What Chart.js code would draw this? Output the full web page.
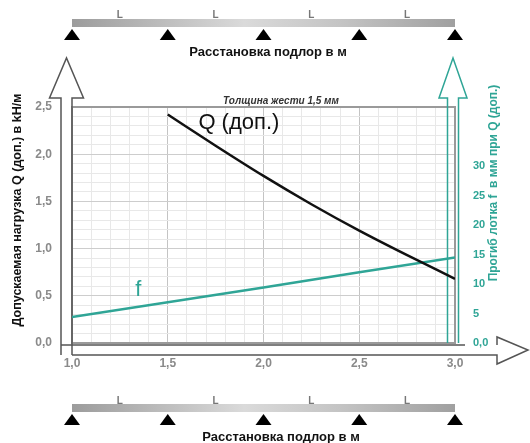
<!DOCTYPE html>
<html>
<head>
<meta charset="utf-8">
<script src="https://cdn.jsdelivr.net/npm/chart.js@4.4.1/dist/chart.umd.min.js"></script>
<style>
  html, body { margin: 0; padding: 0; background: #fff; }
  #wrap { width: 530px; height: 443px; }
</style>
</head>
<body>
<div id="wrap"><canvas id="chart"></canvas></div>
<script>
// spacing of supports, m
const supports = [1.0, 1.5, 2.0, 2.5, 3.0];
// allowed load Q, kN/m
const qX = [1.5, 1.75, 2.0, 2.25, 2.5, 2.75, 3.0];
const qVals = [2.42, 2.09, 1.77, 1.47, 1.19, 0.93, 0.68];
// deflection f, mm
const fX = [1.0, 1.5, 2.0, 2.5, 3.0];
const fVals = [4.4, 6.9, 9.4, 12.0, 14.5];
const rightTicks = [0, 5, 10, 15, 20, 25, 30];

const teal = '#2fa596';
const font = 'Liberation Sans, Arial, sans-serif';

function comma(v) {
  return v.toFixed(1).replace('.', ',');
}
function isMajor(v) {
  return Math.round(v * 10) % 5 === 0;
}

function vArrow(ctx, cx, halfShaft, halfHead, yTip, yBase, yBottom) {
  ctx.beginPath();
  ctx.moveTo(cx - halfShaft, yBottom);
  ctx.lineTo(cx - halfShaft, yBase);
  ctx.lineTo(cx - halfHead, yBase);
  ctx.lineTo(cx, yTip);
  ctx.lineTo(cx + halfHead, yBase);
  ctx.lineTo(cx + halfShaft, yBase);
  ctx.lineTo(cx + halfShaft, yBottom);
  ctx.stroke();
}

function beam(ctx, xs, yBeam, yL) {
  const x0 = xs[0], x1 = xs[xs.length - 1];
  const g = ctx.createLinearGradient(x0, 0, x1, 0);
  g.addColorStop(0, '#9c9c9c');
  g.addColorStop(0.45, '#dadada');
  g.addColorStop(0.7, '#c4c4c4');
  g.addColorStop(1, '#a0a0a0');
  ctx.fillStyle = g;
  ctx.fillRect(x0, yBeam, x1 - x0, 8);
  ctx.fillStyle = '#000';
  xs.forEach(x => {
    ctx.beginPath();
    ctx.moveTo(x, yBeam + 10);
    ctx.lineTo(x + 8, yBeam + 21);
    ctx.lineTo(x - 8, yBeam + 21);
    ctx.closePath();
    ctx.fill();
  });
  ctx.fillStyle = '#777';
  ctx.font = 'bold 10px ' + font;
  ctx.textAlign = 'center';
  ctx.textBaseline = 'alphabetic';
  for (let i = 0; i < xs.length - 1; i++) {
    ctx.fillText('L', (xs[i] + xs[i + 1]) / 2, yL);
  }
}

const decor = {
  id: 'decor',
  beforeDatasetsDraw(chart) {
    const ctx = chart.ctx;
    const a = chart.chartArea;
    ctx.save();
    // plot frame
    ctx.strokeStyle = '#9a9a9a';
    ctx.lineWidth = 2;
    ctx.strokeRect(a.left, a.top, a.right - a.left, a.bottom - a.top);
    // left arrow
    ctx.strokeStyle = '#555';
    ctx.lineWidth = 1.5;
    vArrow(ctx, a.left - 5.5, 5.5, 17, 58, 98, a.bottom + 12);
    // right arrow
    ctx.strokeStyle = teal;
    vArrow(ctx, a.right - 2, 5.5, 14, 58, 98, a.bottom);
    // x arrow
    ctx.strokeStyle = '#555';
    ctx.beginPath();
    ctx.moveTo(a.left - 11, a.bottom + 2);
    ctx.lineTo(a.right + 10, a.bottom + 2);
    ctx.moveTo(497, a.bottom + 2);
    ctx.lineTo(497, a.bottom - 6);
    ctx.lineTo(528, a.bottom + 7);
    ctx.lineTo(497, a.bottom + 21);
    ctx.lineTo(497, a.bottom + 12);
    ctx.lineTo(a.left, a.bottom + 12);
    ctx.stroke();
    ctx.restore();
  },
  afterDatasetsDraw(chart) {
    const ctx = chart.ctx;
    const xs = chart.scales.x;
    const ys = chart.scales.y;
    const sx = supports.map(v => xs.getPixelForValue(v));
    ctx.save();
    beam(ctx, sx, 19, 18);
    beam(ctx, sx, 404, 404);

    ctx.fillStyle = '#111';
    ctx.font = 'bold 13px ' + font;
    ctx.textAlign = 'center';
    ctx.textBaseline = 'middle';
    ctx.fillText('Расстановка подлор в м', 268, 52);
    ctx.fillText('Расстановка подлор в м', 281, 437);

    ctx.font = 'italic bold 10px ' + font;
    ctx.fillStyle = '#333';
    ctx.fillText('Толщина жести 1,5 мм', 281, 101);

    // axis titles
    ctx.save();
    ctx.translate(18, 210);
    ctx.rotate(-Math.PI / 2);
    ctx.font = 'bold 12.5px ' + font;
    ctx.fillStyle = '#111';
    ctx.fillText('Допускаемая нагрузка Q (доп.) в kH/м', 0, 0);
    ctx.restore();
    ctx.save();
    ctx.translate(494, 183);
    ctx.rotate(-Math.PI / 2);
    ctx.font = 'bold 12px ' + font;
    ctx.fillStyle = teal;
    ctx.fillText('Прогиб лотка f  в мм при Q (доп.)', 0, 0);
    ctx.restore();

    // curve labels
    ctx.textAlign = 'left';
    ctx.font = '22px ' + font;
    ctx.fillStyle = '#111';
    ctx.fillText('Q (доп.)', xs.getPixelForValue(1.66), ys.getPixelForValue(2.33));
    ctx.fillStyle = teal;
    ctx.fillText('f', xs.getPixelForValue(1.33), ys.getPixelForValue(0.56));
    ctx.restore();
  }
};

new Chart(document.getElementById('chart').getContext('2d'), {
  type: 'line',
  data: {
    datasets: [{
        label: 'Q',
        data: qX.map((x, i) => ({x: x, y: qVals[i]})),
        borderColor: '#111',
        borderWidth: 2.5,
        pointRadius: 0,
        cubicInterpolationMode: 'monotone',
        yAxisID: 'y'
      }, {
        label: 'f',
        data: fX.map((x, i) => ({x: x, y: fVals[i]})),
        borderColor: teal,
        borderWidth: 2.5,
        pointRadius: 0,
        yAxisID: 'y2'
      }]
  },
  options: {
    responsive: true,
    maintainAspectRatio: false,
    animation: false,
    layout: {padding: {top: 107, left: 0, right: 0, bottom: 0}},
    plugins: {
      legend: {display: false},
      tooltip: {enabled: false}
    },
    scales: {
      x: {
        type: 'linear',
        min: 1,
        max: 3,
        border: {display: false},
        afterFit: s => { s.height = 100; },
        grid: {
          drawTicks: false,
          color: c => isMajor(c.tick.value) ? '#c4c4c4' : '#e8e8e8'
        },
        ticks: {
          stepSize: 0.1,
          autoSkip: false,
          maxRotation: 0,
          padding: 13,
          color: '#8a8a8a',
          font: {family: font, size: 12, weight: 'bold'},
          callback: v => isMajor(v) ? comma(v) : ''
        }
      },
      y: {
        position: 'left',
        min: 0,
        max: 2.5,
        border: {display: false},
        afterFit: s => { s.width = 72; },
        grid: {
          drawTicks: false,
          color: c => isMajor(c.tick.value) ? '#cdcdcd' : '#e8e8e8'
        },
        ticks: {
          stepSize: 0.1,
          autoSkip: false,
          padding: 20,
          color: '#8a8a8a',
          font: {family: font, size: 12, weight: 'bold'},
          callback: v => isMajor(v) ? comma(v) : ''
        }
      },
      y2: {
        position: 'right',
        min: 0,
        max: 40,
        border: {display: false},
        afterFit: s => { s.width = 75; },
        grid: {drawOnChartArea: false, drawTicks: false},
        ticks: {
          stepSize: 5,
          autoSkip: false,
          padding: 18,
          color: teal,
          font: {family: font, size: 11, weight: 'bold'},
          callback: v => v === 0 ? '0,0' : (rightTicks.includes(v) ? String(v) : '')
        }
      }
    }
  },
  plugins: [decor]
});
</script>
</body>
</html>
